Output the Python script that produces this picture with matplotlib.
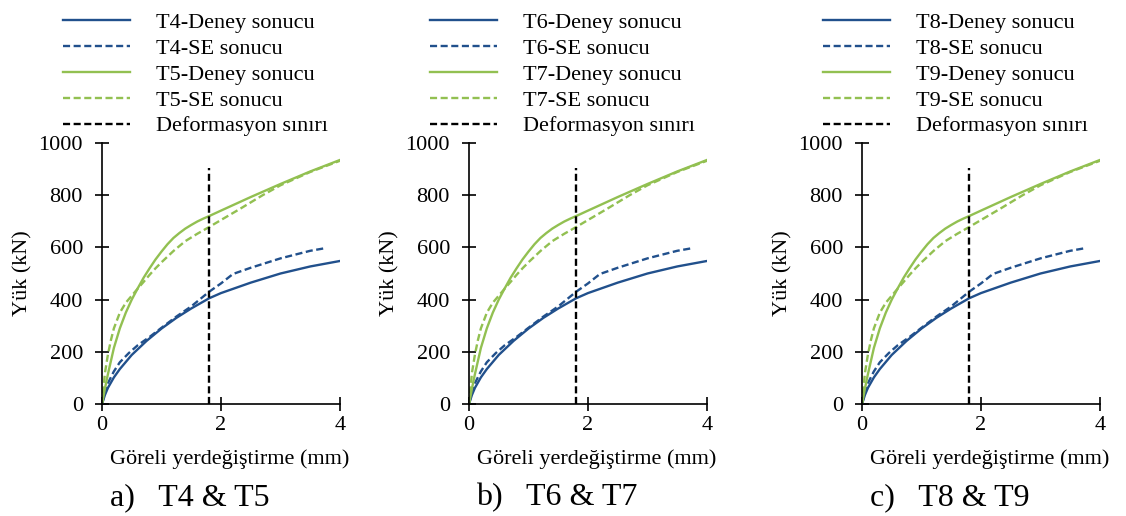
import matplotlib.pyplot as plt

plt.rcParams['font.family'] = ['Liberation Serif', 'DejaVu Serif']

# deney sonucu (solid) and SE sonucu (dashed); same curves in all three panels
x_exp_low = [0, 0.05, 0.1, 0.2, 0.3, 0.5, 0.75, 1.0, 1.25, 1.5, 1.8, 2.0, 2.5, 3.0, 3.5, 4.0]
y_exp_low = [0, 35, 62, 102, 134, 188, 242, 289, 330, 366, 405, 425, 465, 500, 527, 548]
x_se_low = [0, 0.05, 0.1, 0.2, 0.3, 0.45, 0.6, 0.8, 1.0, 1.25, 1.5, 1.8, 2.0, 2.2, 2.5, 3.0, 3.5, 3.75]
y_se_low = [0, 45, 80, 125, 160, 195, 225, 257, 292, 335, 374, 430, 462, 498, 522, 558, 587, 597]
x_exp_high = [0, 0.05, 0.1, 0.2, 0.3, 0.4, 0.5, 0.6, 0.7, 0.8, 0.9, 1.0, 1.1, 1.2, 1.3, 1.4,
              1.5, 1.6, 1.7, 1.8, 2.0, 2.5, 3.0, 3.5, 4.0]
y_exp_high = [0, 60, 115, 215, 290, 350, 400, 443, 484, 520, 554, 584, 612, 636, 655, 672,
              686, 699, 710, 720, 741, 793, 843, 891, 935]
x_se_high = [0, 0.05, 0.1, 0.15, 0.2, 0.3, 0.4, 0.5, 0.6, 0.7, 0.8, 0.9, 1.0, 1.2, 1.4, 1.6,
             1.8, 2.0, 2.3, 2.7, 3.0, 3.5, 4.0]
y_se_high = [0, 120, 190, 245, 290, 350, 388, 415, 442, 468, 495, 520, 543, 586, 624, 652,
             678, 705, 745, 800, 838, 889, 932]
limit_x = 1.8
limit_top = 905

pairs = [("T4", "T5"), ("T6", "T7"), ("T8", "T9")]
captions = ["a)   T4 & T5", "b)   T6 & T7", "c)   T8 & T9"]
lefts = [102, 469, 862]

blue = "#21508c"
green = "#92c051"
dash = (0, (3, 1.5))
fs = 16

W, H = 1126, 516
fig = plt.figure(figsize=(W / 100, H / 100), dpi=100)

for i, (lo, hi) in enumerate(pairs):
    ax = fig.add_axes([lefts[i] / W, 1 - 404 / H, 238 / W, 261 / H])
    ax.plot(x_exp_low, y_exp_low, color=blue, lw=1.7, label=f"{lo}-Deney sonucu")
    ax.plot(x_se_low, y_se_low, color=blue, lw=1.7, ls=dash, label=f"{lo}-SE sonucu")
    ax.plot(x_exp_high, y_exp_high, color=green, lw=1.7, label=f"{hi}-Deney sonucu")
    ax.plot(x_se_high, y_se_high, color=green, lw=1.7, ls=dash, label=f"{hi}-SE sonucu")
    ax.plot([limit_x, limit_x], [0, limit_top], color="black", lw=1.7, ls=dash,
            label="Deformasyon sınırı")

    ax.set_xlim(0, 4)
    ax.set_ylim(0, 1000)
    ax.set_xticks([0, 2, 4])
    ax.set_yticks(range(0, 1001, 200))
    for s in ["top", "right"]:
        ax.spines[s].set_visible(False)
    ax.spines["left"].set_linewidth(1.2)
    ax.spines["bottom"].set_linewidth(1.2)
    ax.tick_params(direction="inout", length=9.5, width=1.2, labelsize=fs, colors="black")
    ax.tick_params(axis="y", pad=9)
    ax.tick_params(axis="x", pad=4)
    ax.set_ylabel("Yük (kN)", fontsize=fs)
    ax.yaxis.set_label_coords(-0.29, 0.5)
    ax.set_xlabel("Göreli yerdeğiştirme (mm)", fontsize=fs)
    ax.xaxis.set_label_coords(0.536, -0.172)
    ax.text(0.37, -0.36, captions[i], transform=ax.transAxes, fontsize=23, ha="center", va="center")

    ax.legend(loc="lower left", bbox_to_anchor=(-0.164, 1.025), frameon=False, fontsize=fs,
              handlelength=3.0, handletextpad=1.17, labelspacing=0.24, borderpad=0,
              borderaxespad=0)

plt.savefig("out.png", dpi=100)
